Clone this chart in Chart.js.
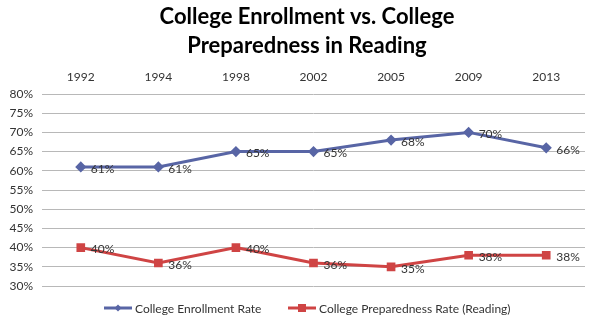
<!DOCTYPE html>
<html>
<head>
<meta charset="utf-8">
<script src="https://cdn.jsdelivr.net/npm/chart.js@4/dist/chart.umd.min.js"></script>
<style>
  html, body { margin: 0; padding: 0; background: #fff; }
  .container { width: 600px; height: 333px; position: relative; }
</style>
</head>
<body>
<div class="container">
  <canvas id="chart"></canvas>
</div>
<script>
const years = ['1992', '1994', '1998', '2002', '2005', '2009', '2013']
const enrollmentRate = [61, 61, 65, 65, 68, 70, 66]
const preparednessRate = [40, 36, 40, 36, 35, 38, 38]
const seriesNames = ['College Enrollment Rate', 'College Preparedness Rate (Reading)']
const titleLines = ['College Enrollment vs. College', 'Preparedness in Reading']

const FONT = 'Lato, "Open Sans", sans-serif'
const BLUE = '#5865a5'
const RED = '#cf4444'

// two line title, a bit right of the canvas centre like the original
const chartTitle = {
  id: 'chartTitle',
  afterDraw(chart) {
    const {ctx} = chart
    ctx.save()
    ctx.font = 'bold 22px ' + FONT
    ctx.fillStyle = '#000000'
    ctx.textAlign = 'center'
    ctx.textBaseline = 'middle'
    ctx.fillText(titleLines[0], 307, 17)
    ctx.fillText(titleLines[1], 307, 46)
    ctx.restore()
  }
}

// percent labels beside each point, like the excel data labels
const pointLabels = {
  id: 'pointLabels',
  afterDatasetsDraw(chart) {
    const {ctx} = chart
    ctx.save()
    ctx.font = '12px ' + FONT
    ctx.fillStyle = '#333333'
    ctx.textAlign = 'left'
    ctx.textBaseline = 'middle'
    chart.data.datasets.forEach((ds, i) => {
      chart.getDatasetMeta(i).data.forEach((pt, j) => {
        ctx.fillText(ds.data[j] + '%', pt.x + 10, pt.y + 2)
      })
    })
    ctx.restore()
  }
}

// legend drawn by hand: line through the marker, then name
const bottomLegend = {
  id: 'bottomLegend',
  afterDraw(chart) {
    const {ctx} = chart
    const y = 308
    const items = [
      {x: 104, color: BLUE, style: 'diamond', text: seriesNames[0]},
      {x: 288, color: RED, style: 'square', text: seriesNames[1]}
    ]
    ctx.save()
    ctx.font = '12px ' + FONT
    ctx.textBaseline = 'middle'
    items.forEach(it => {
      ctx.strokeStyle = it.color
      ctx.fillStyle = it.color
      ctx.lineWidth = 3
      ctx.beginPath()
      ctx.moveTo(it.x, y)
      ctx.lineTo(it.x + 28, y)
      ctx.stroke()
      const cx = it.x + 14
      ctx.beginPath()
      if (it.style === 'diamond') {
        ctx.moveTo(cx, y - 3.5); ctx.lineTo(cx + 3.5, y); ctx.lineTo(cx, y + 3.5); ctx.lineTo(cx - 3.5, y)
      } else {
        ctx.rect(cx - 4, y - 4, 8, 8)
      }
      ctx.fill()
      ctx.fillStyle = '#333333'
      ctx.fillText(it.text, it.x + 31, y + 1)
    })
    ctx.restore()
  }
}

new Chart(document.getElementById('chart').getContext('2d'), {
  type: 'line',
  data: {
    labels: years,
    datasets: [{
      label: seriesNames[0],
      data: enrollmentRate,
      borderColor: BLUE,
      backgroundColor: BLUE,
      borderWidth: 3,
      pointStyle: 'rectRot',
      pointRadius: 3.5,
      tension: 0
    }, {
      label: seriesNames[1],
      data: preparednessRate,
      borderColor: RED,
      backgroundColor: RED,
      borderWidth: 3,
      pointStyle: 'rect',
      pointRadius: 4,
      tension: 0
    }]
  },
  options: {
    responsive: true,
    maintainAspectRatio: false,
    animation: false,
    layout: {padding: {left: 8, right: 15, top: 62, bottom: 47}},
    plugins: {
      legend: {display: false},
      tooltip: {enabled: false},
      title: {display: false}
    },
    scales: {
      x: {
        position: 'top',
        offset: true,
        grid: {display: false},
        border: {display: false},
        ticks: {color: '#333333', font: {family: FONT, size: 12}, padding: 2},
        afterFit: s => { s.height = 32 }
      },
      y: {
        min: 30,
        max: 80,
        border: {display: false},
        grid: {color: '#b8b8b8', lineWidth: 1, drawTicks: false},
        ticks: {
          stepSize: 5,
          color: '#333333',
          font: {family: FONT, size: 12},
          padding: 9,
          callback: v => v + '%'
        },
        afterFit: s => { s.width = 34 }
      }
    }
  },
  plugins: [chartTitle, pointLabels, bottomLegend]
})
</script>
</body>
</html>
